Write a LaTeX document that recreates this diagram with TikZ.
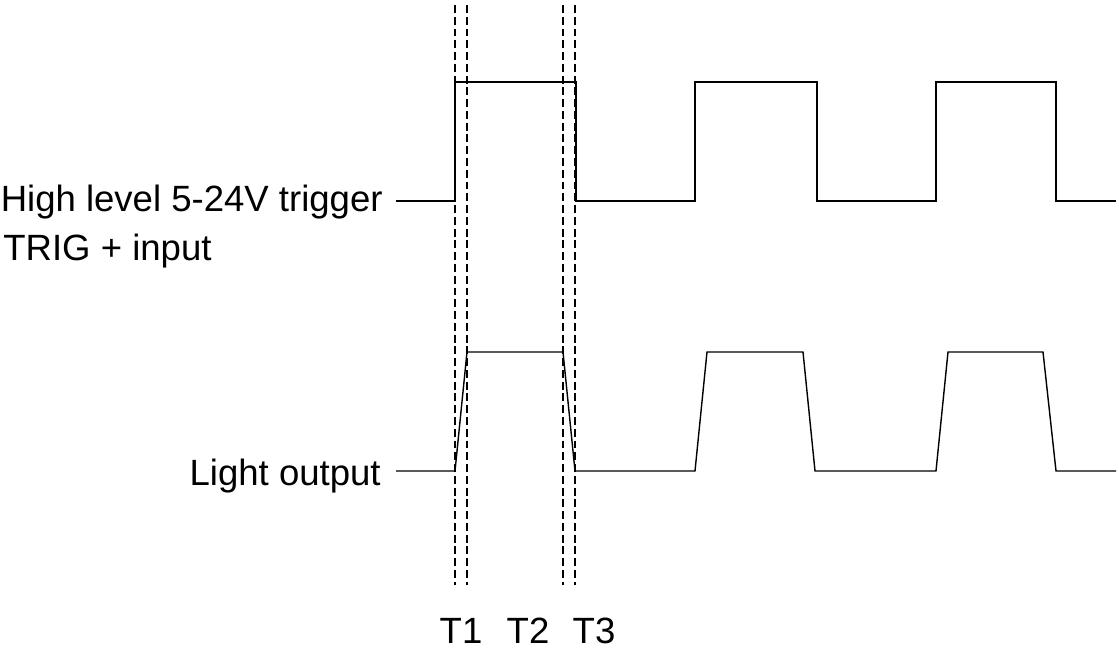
\documentclass[tikz,border=0pt]{standalone}
\usepackage{fontspec}
\setmainfont{Liberation Sans}
\begin{document}
\begin{tikzpicture}[x=0.02cm, y=-0.02cm]

    \tikzset{wave/.style={line width=0.8pt, line join=miter},
             guide/.style={line width=0.6pt, dash pattern=on 4.5pt off 2.2pt},
             lbl/.style={inner sep=0pt, font=\fontsize{20.8}{25}\selectfont}}
    \useasboundingbox (0,0) rectangle (1119,649);

    % trigger input
    \coordinate (a0) at ( 396, 201);
    \coordinate (a1) at ( 455, 201);
    \coordinate (a2) at ( 455,  82);
    \coordinate (a3) at ( 576,  82);
    \coordinate (a4) at ( 576, 201);
    \coordinate (a5) at ( 695, 201);
    \coordinate (a6) at ( 695,  82);
    \coordinate (a7) at ( 817,  82);
    \coordinate (a8) at ( 817, 201);
    \coordinate (a9) at ( 936, 201);
    \coordinate (a10) at ( 936,  82);
    \coordinate (a11) at (1056,  82);
    \coordinate (a12) at (1056, 201);
    \coordinate (a13) at (1116, 201);

    % light output
    \coordinate (b0) at ( 396, 471);
    \coordinate (b1) at ( 455, 471);
    \coordinate (b2) at ( 467, 352);
    \coordinate (b3) at ( 563, 352);
    \coordinate (b4) at ( 575, 471);
    \coordinate (b5) at ( 695, 471);
    \coordinate (b6) at ( 707, 352);
    \coordinate (b7) at ( 803, 352);
    \coordinate (b8) at ( 815, 471);
    \coordinate (b9) at ( 936, 471);
    \coordinate (b10) at ( 948, 352);
    \coordinate (b11) at (1043, 352);
    \coordinate (b12) at (1056, 471);
    \coordinate (b13) at (1116, 471);

    \draw[wave] (a0) -- (a1) -- (a2) -- (a3) -- (a4) -- (a5) -- (a6) -- (a7)
        -- (a8) -- (a9) -- (a10) -- (a11) -- (a12) -- (a13);
    \draw[wave] (b0) -- (b1) -- (b2) -- (b3) -- (b4) -- (b5) -- (b6) -- (b7)
        -- (b8) -- (b9) -- (b10) -- (b11) -- (b12) -- (b13);

    % timing guides
    \coordinate (t1) at (455, 5);   \coordinate (u1) at (455, 585);
    \coordinate (t2) at (467, 5);   \coordinate (u2) at (467, 585);
    \coordinate (t3) at (563, 5);   \coordinate (u3) at (563, 585);
    \coordinate (t4) at (575, 5);   \coordinate (u4) at (575, 585);
    \draw[guide] (t1) -- (u1);
    \draw[guide] (t2) -- (u2);
    \draw[guide] (t3) -- (u3);
    \draw[guide] (t4) -- (u4);

    \node[lbl, anchor=base east] (trig) at (383, 211) {High level 5-24V trigger};
    \node[lbl, anchor=base west] (trig2) at (3, 260) {TRIG + input};
    \node[lbl, anchor=base east] (light) at (381, 485) {Light output};

    \node[lbl, anchor=base] (T1) at (461, 643) {T1};
    \node[lbl, anchor=base] (T2) at (528, 643) {T2};
    \node[lbl, anchor=base] (T3) at (594, 643) {T3};
\end{tikzpicture}
\end{document}
